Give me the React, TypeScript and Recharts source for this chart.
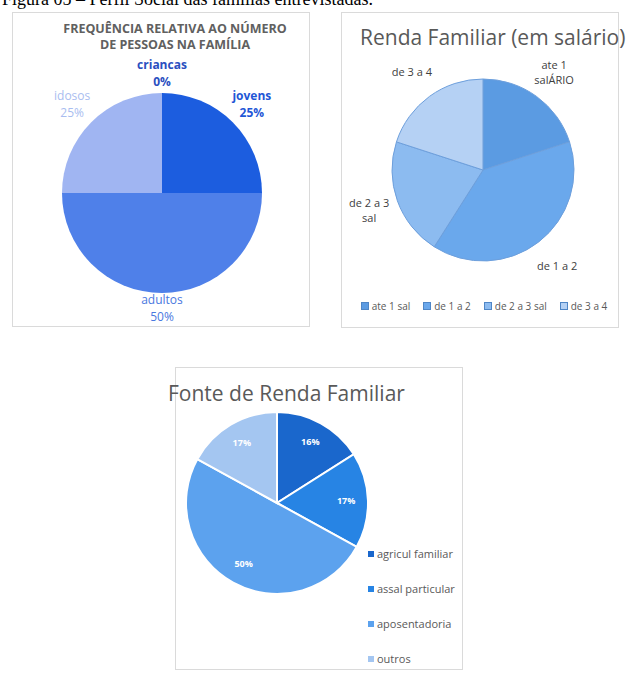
import { PieChart, Pie, Cell, Legend } from "recharts"

const membros = ["criancas", "jovens", "adultos", "idosos"]
const membrosPct = [0, 25, 50, 25]

const faixas = ["ate 1 sal", "de 1 a 2", "de 2 a 3 sal", "de 3 a 4"]
const faixasRotulo = [["ate 1", "salÁRIO"], ["de 1 a 2"], ["de 2 a 3", "sal"], ["de 3 a 4"]]
const faixasValor = [20, 39, 21, 20]

const fontes = ["agricul familiar", "assal particular", "aposentadoria", "outros"]
const fontesPct = [16, 17, 50, 17]

const corMembros = ["#2a52c4", "#1c5ddf", "#4f80e9", "#a0b5f2"]
const corRotuloMembros = ["#2a4fbf", "#1f57d6", "#4a78e0", "#a9bdf0"]
const pesoRotulo = [700, 700, 400, 400]
const corFaixas = ["#5b9be2", "#6aa8ec", "#8cbbf0", "#b5d1f4"]
const corFontes = ["#1a67cc", "#2784e4", "#5ca2ee", "#a4c6f1"]

const SANS = "'Open Sans', 'Liberation Sans', sans-serif"
const NARROW = "'Liberation Sans Narrow', 'Open Sans', sans-serif"
const RAD = Math.PI / 180

const dadosMembros = membros.map((name, i) => ({ name, value: membrosPct[i] }))
const dadosFaixas = faixas.map((name, i) => ({ name, value: faixasValor[i] }))
const dadosFontes = fontes.map((name, i) => ({ name, value: fontesPct[i] }))

function rotuloMembros(props: any) {
  const { cx, cy, midAngle, outerRadius, index, percent } = props
  const s = Math.sin(midAngle * RAD)
  const c = Math.cos(midAngle * RAD)
  const r = outerRadius + 14 + 3.5 * (1 + s) + 10 * Math.abs(c)
  const x = cx + r * c
  const y = cy - r * s
  return (
    <text
      x={x}
      y={y - 3}
      textAnchor="middle"
      fill={corRotuloMembros[index]}
      fontSize={12}
      fontWeight={pesoRotulo[index]}
      fontFamily={SANS}
    >
      <tspan x={x}>{membros[index]}</tspan>
      <tspan x={x} dy={17}>{Math.round(percent * 100)}%</tspan>
    </text>
  )
}

function rotuloFaixas(props: any) {
  const { cx, cy, midAngle, outerRadius, index } = props
  const r = outerRadius + 30
  const x = cx + r * Math.cos(midAngle * RAD)
  const y = cy - r * Math.sin(midAngle * RAD)
  const linhas = faixasRotulo[index]
  const y0 = y + 4 - (linhas.length - 1) * 7.5
  return (
    <text x={x} y={y0} textAnchor="middle" fill="#404040" fontSize={11} fontFamily={SANS}>
      {linhas.map((t, k) => (
        <tspan key={k} x={x} dy={k === 0 ? 0 : 15}>
          {t}
        </tspan>
      ))}
    </text>
  )
}

function rotuloFontes(props: any) {
  const { cx, cy, midAngle, outerRadius, index } = props
  const r = outerRadius * 0.76
  const x = cx + r * Math.cos(midAngle * RAD)
  const y = cy - r * Math.sin(midAngle * RAD)
  return (
    <text x={x} y={y + 3} textAnchor="middle" fill="#ffffff" fontSize={9} fontWeight={700} fontFamily={SANS}>
      {fontesPct[index]}%
    </text>
  )
}

function legendaFaixas() {
  return (
    <div style={{ display: "flex", justifyContent: "center", gap: 13, fontFamily: SANS, fontSize: 10, color: "#595959" }}>
      {faixas.map((f, i) => (
        <span key={f} style={{ display: "flex", alignItems: "center" }}>
          <span
            style={{
              width: 8,
              height: 8,
              background: corFaixas[i],
              marginRight: 3,
              border: "1px solid #4f86c6",
              boxSizing: "border-box",
            }}
          />
          {f}
        </span>
      ))}
    </div>
  )
}

function legendaFontes() {
  return (
    <div style={{ fontFamily: SANS, fontSize: 11, color: "#595959" }}>
      {fontes.map((f, i) => (
        <div key={f} style={{ display: "flex", alignItems: "center", height: 35 }}>
          <span style={{ width: 6, height: 6, background: corFontes[i], marginRight: 3 }} />
          {f}
        </div>
      ))}
    </div>
  )
}

const painel = (left: number, top: number, width: number, height: number): React.CSSProperties => ({
  position: "absolute",
  left,
  top,
  width,
  height,
  border: "1px solid #dadada",
  boxSizing: "border-box",
  background: "#fff",
})

export default function App() {
  return (
    <div style={{ position: "absolute", left: 0, top: 0, width: 626, height: 675, overflow: "hidden", background: "#fff" }}>
      <div
        style={{
          position: "absolute",
          left: 2,
          top: -10,
          fontFamily: "'Liberation Serif', serif",
          fontSize: 18,
          lineHeight: "18px",
          whiteSpace: "nowrap",
          color: "#000",
        }}
      >
        Figura 05 – Perfil Social das famílias entrevistadas.
      </div>

      <div style={painel(12, 12, 298, 315)}>
        <div
          style={{
            position: "absolute",
            left: 13,
            top: 8,
            width: 298,
            textAlign: "center",
            fontFamily: NARROW,
            fontWeight: 700,
            fontSize: 12.5,
            lineHeight: "16px",
            color: "#606060",
          }}
        >
          <div>FREQUÊNCIA RELATIVA AO NÚMERO</div>
          <div>DE PESSOAS NA FAMÍLIA</div>
        </div>
        <PieChart width={296} height={313} style={{ position: "absolute", left: 0, top: 0 }}>
          <Pie
            data={dadosMembros}
            dataKey="value"
            cx={144}
            cy={175}
            outerRadius={100}
            startAngle={90}
            endAngle={-270}
            stroke="none"
            label={rotuloMembros}
            labelLine={false}
            isAnimationActive={false}
          >
            {dadosMembros.map((d, i) => (
              <Cell key={d.name} fill={corMembros[i]} />
            ))}
          </Pie>
        </PieChart>
      </div>

      <div style={painel(341, 12, 278, 316)}>
        <div
          style={{
            position: "absolute",
            left: 18,
            top: 10,
            fontFamily: SANS,
            fontSize: 21,
            lineHeight: "28px",
            whiteSpace: "nowrap",
            color: "#595959",
          }}
        >
          Renda Familiar (em salário)
        </div>
        <PieChart width={276} height={314} style={{ position: "absolute", left: 0, top: 0 }}>
          <Pie
            data={dadosFaixas}
            dataKey="value"
            cx={136}
            cy={152}
            outerRadius={91}
            startAngle={90}
            endAngle={-270}
            stroke="#6d9fdc"
            strokeWidth={1}
            label={rotuloFaixas}
            labelLine={false}
            isAnimationActive={false}
          >
            {dadosFaixas.map((d, i) => (
              <Cell key={d.name} fill={corFaixas[i]} />
            ))}
          </Pie>
          <Legend verticalAlign="bottom" wrapperStyle={{ bottom: 14, left: 4, width: 276 }} content={legendaFaixas} />
        </PieChart>
      </div>

      <div style={painel(175, 367, 288, 303)}>
        <PieChart width={286} height={301} style={{ position: "absolute", left: 0, top: 0 }}>
          <Pie
            data={dadosFontes}
            dataKey="value"
            cx={96}
            cy={130}
            outerRadius={91}
            startAngle={90}
            endAngle={-270}
            stroke="#ffffff"
            strokeWidth={2}
            label={rotuloFontes}
            labelLine={false}
            isAnimationActive={false}
          >
            {dadosFontes.map((d, i) => (
              <Cell key={d.name} fill={corFontes[i]} />
            ))}
          </Pie>
          <Legend
            layout="vertical"
            verticalAlign="top"
            align="right"
            wrapperStyle={{ left: 192, top: 168, right: "auto" }}
            content={legendaFontes}
          />
        </PieChart>
        <div
          style={{
            position: "absolute",
            left: -8,
            top: 11,
            fontFamily: SANS,
            fontSize: 21,
            lineHeight: "28px",
            whiteSpace: "nowrap",
            color: "#595959",
          }}
        >
          Fonte de Renda Familiar
        </div>
      </div>
    </div>
  )
}
